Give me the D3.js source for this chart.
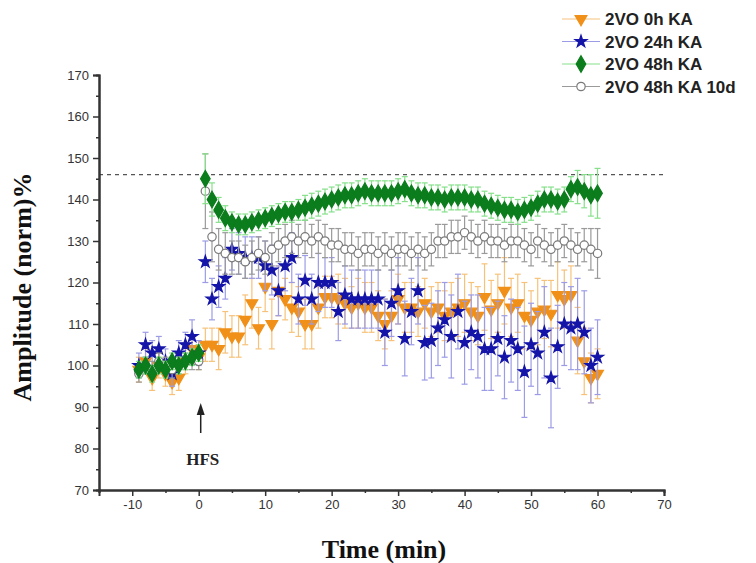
<!DOCTYPE html>
<html><head><meta charset="utf-8">
<script src="https://cdn.jsdelivr.net/npm/d3@7"></script>
<style>body{margin:0;background:#fff}svg{display:block}</style>
</head><body><svg id="c" width="756" height="563"></svg>
<script>
// ---- data ----
const times = [-9,-8,-7,-6,-5,-4,-3,-2,-1,0,
  1,2,3,4,5,6,7,8,9,10,11,12,13,14,15,16,17,18,19,20,
  21,22,23,24,25,26,27,28,29,30,31,32,33,34,35,36,37,38,39,40,
  41,42,43,44,45,46,47,48,49,50,51,52,53,54,55,56,57,58,59,60];
const seriesNames = ["2VO 0h KA","2VO 24h KA","2VO 48h KA","2VO 48h KA 10d"];
const ka0h = [99,101,97,100,98,96,97,101,104,102,
  105,105,104,108,107,107,111,115,109,119,110,118,116,114,113,110,110,114,116.5,116.5,
  116,115,114,115,114,114,112,110,112,116,114,114,113,115,113,114,112,113,114,115,
  113,112,116.5,113.5,115,118,114,115,112,111,113,113.5,112.5,117,116,117,106,101,97,98];
const ka0hErr = [3,3,3,3,3,3,3,3,3,3,
  4,4,5,5,5,5,6,6,5,6,6,6,5,6,6,6,6,5,5,5,
  6,6,5,6,6,6,6,6,6,6,6,6,6,6,6,6,6,7,7,7,
  7,7,8,7,7,8,7,7,8,7,8,7,8,8,7,7,8,8,6,6];
const ka24h = [100,105,103,104,101,98,103,105,107,103,
  125,116,119,121,128,127,126,126,126,124,123,118,124,126,116,120.5,116,120,120,120,
  113,117,116,116,116,116,116,108,115,118,106.5,113,118,105.5,106,109,111,107,113,105.5,
  108,107,104,104,106.5,102,106,104,98.5,105,103,108,97,104.5,110,109,110,108,100,102];
const ka24hErr = [3,3,3,3,3,3,3,3,4,3,
  5,5,5,5,5,5,5,5,5,6,6,6,6,6,6,6,6,7,6,6,
  7,7,7,7,7,7,7,8,8,8,9,8,8,9,9,9,9,10,9,10,
  9,10,10,10,9,10,10,10,11,10,10,11,12,10,10,10,11,10,9,9];
const ka48h = [99,100,98,100,99,101,100,101,102,103,
  145,140,137.5,135.5,134.5,134,134,134.5,135,135.5,136,136.5,137,137,137.5,138,138.5,139,139.5,140,
  140.5,141,141,141.5,142,141.5,141.5,141.5,141.5,142,142.5,141.5,141,141,140.5,140.5,140,140.5,140.5,140.5,
  140,140,139,138.5,138,137.5,137.5,137,137.5,138,139,140,140,139.5,140,142.5,143,142,141,141.5];
const ka48hErr = [2,2,2,2,2,2,2,2,2,2,
  6,4,3,3,2.5,2.5,2.5,2.5,2.5,2.5,2.5,2.5,2.5,2.5,2.5,3,3,3,3,3,
  3,3,3,3,3,3,3,3,3,3,3,3,3,3,3,3,3,3,3,3,
  3,3,3,3,3,3,3,3,3,3,3,3,3,3,3,3,4,4,5,6];
const ka48h10d = [98,100,99,101,100,99,100,101,101,101,
  142,131,128,127,126,126,125,126,127,126,128,129,130,131,130,131,130,131,130,129,
  129,128,128,127,128,128,127,128,127,128,128,127,128,127,128,130,130,131,131,132,
  131,130,131,130,130,129,130,130,129,128,130,129,128,129,130,129,128,129,128,127];
const ka48h10dErr = [2,2,2,2,2,2,2,2,2,2,
  9,6,5,5,4,4,4,4,4,4,4,4,4,4,4,4,4,4,4,4,
  4,4,4,4,4,4,4,4,4,4,4,4,4,4,4,4,4,4,4,4,
  4,4,4,4,4,4,4,4,4,4,4,4,4,4,4,4,4,4,5,6];
const refLine = 146;
const xTicks = [-10,0,10,20,30,40,50,60,70];
const yTicks = [70,80,90,100,110,120,130,140,150,160,170];

// ---- layout ----
const svg = d3.select("#c");
const x = d3.scaleLinear().domain([-15,70]).range([99,664]);
const y = d3.scaleLinear().domain([70,170]).range([490,75]);

const series = [
  {name:seriesNames[0], v:ka0h, e:ka0hErr, sym:d3.symbolTriangle, rot:180, fill:"#f09018", stroke:"#f09018", err:"#f6c27a", size:60},
  {name:seriesNames[1], v:ka24h, e:ka24hErr, sym:d3.symbolStar, rot:0, fill:"#1414a8", stroke:"#1414a8", err:"#9c9ce6", size:45},
  {name:seriesNames[3], v:ka48h10d, e:ka48h10dErr, sym:d3.symbolCircle, rot:0, fill:"#ffffff", stroke:"#7a7a7a", err:"#9a9a9a", size:55},
  {name:seriesNames[2], v:ka48h, e:ka48hErr, sym:d3.symbolDiamond, rot:0, fill:"#0b7d1c", stroke:"#0b7d1c", err:"#86e08a", size:80}
];

// dashed reference line
svg.append("line").attr("x1",x(-15)).attr("x2",x(70)).attr("y1",y(refLine)).attr("y2",y(refLine))
  .attr("stroke","#555").attr("stroke-width",1.3).attr("stroke-dasharray","4,4");

series.forEach(s=>{
  const g = svg.append("g");
  const pts = times.map((t,i)=>({t, v:s.v[i], e:s.e[i]}));
  g.selectAll("line.eb").data(pts).join("line")
    .attr("x1",d=>x(d.t)).attr("x2",d=>x(d.t)).attr("y1",d=>y(d.v-d.e)).attr("y2",d=>y(d.v+d.e))
    .attr("stroke",s.err).attr("stroke-width",1.2);
  g.selectAll("line.cap").data(pts.flatMap(d=>[d.v-d.e,d.v+d.e].map(v=>({t:d.t,v})))).join("line")
    .attr("x1",d=>x(d.t)-3).attr("x2",d=>x(d.t)+3).attr("y1",d=>y(d.v)).attr("y2",d=>y(d.v))
    .attr("stroke",s.err).attr("stroke-width",1.2);
  g.selectAll("path").data(pts).join("path")
    .attr("d",d3.symbol().type(s.sym).size(s.size))
    .attr("transform",d=>`translate(${x(d.t)},${y(d.v)}) rotate(${s.rot})`)
    .attr("fill",s.fill).attr("stroke",s.stroke).attr("stroke-width",1.2);
});

// axes
const fmt = d => String(d);
const xAxis = svg.append("g").attr("transform",`translate(0,${y(70)})`)
  .call(d3.axisBottom(x).tickValues(xTicks).tickSize(6).tickPadding(4).tickFormat(fmt));
const xMinor = svg.append("g").attr("transform",`translate(0,${y(70)})`)
  .call(d3.axisBottom(x).tickValues([-15,-5,5,15,25,35,45,55,65]).tickSize(3).tickFormat(""));
const yAxis = svg.append("g").attr("transform",`translate(${x(-15)},0)`)
  .call(d3.axisLeft(y).tickValues(yTicks).tickSize(6).tickPadding(4).tickFormat(fmt));
const yMinor = svg.append("g").attr("transform",`translate(${x(-15)},0)`)
  .call(d3.axisLeft(y).tickValues([75,85,95,105,115,125,135,145,155,165]).tickSize(3).tickFormat(""));
[xAxis,xMinor,yAxis,yMinor].forEach(a=>{
  a.select(".domain").attr("stroke","#333").attr("stroke-width",2);
  a.selectAll(".tick line").attr("stroke","#333").attr("stroke-width",1.5);
  a.selectAll(".tick text").attr("font-family","Arial, 'Liberation Sans', sans-serif").attr("font-size",13).attr("fill","#333");
});

// titles
svg.append("text").attr("x",384).attr("y",558).attr("text-anchor","middle")
  .attr("font-family","'Liberation Serif','Times New Roman',serif").attr("font-weight","bold").attr("font-size",26)
  .attr("fill","#111").text("Time (min)");
svg.append("text").attr("transform","translate(31,287) rotate(-90)").attr("text-anchor","middle")
  .attr("font-family","'Liberation Serif','Times New Roman',serif").attr("font-weight","bold").attr("font-size",26)
  .attr("fill","#111").text("Amplitude (norm)%");

// HFS annotation
svg.append("line").attr("x1",x(0)+2).attr("x2",x(0)+2).attr("y1",433).attr("y2",412).attr("stroke","#222").attr("stroke-width",1.5);
svg.append("path").attr("d",`M${x(0)-2},${415} L${x(0)+2},${403} L${x(0)+6},${415} Z`).attr("fill","#222");
svg.append("text").attr("x",x(0)+4).attr("y",465).attr("text-anchor","middle")
  .attr("font-family","'Liberation Serif','Times New Roman',serif").attr("font-weight","bold").attr("font-size",17)
  .attr("fill","#222").text("HFS");

// legend
const legOrder = [series[0],series[1],series[3],series[2]];
const leg = svg.append("g");
legOrder.forEach((s,i)=>{
  const cy = 19 + i*22.5;
  leg.append("line").attr("x1",562).attr("x2",600).attr("y1",cy).attr("y2",cy).attr("stroke",s.err).attr("stroke-width",1.2);
  leg.append("path").attr("d",d3.symbol().type(s.sym).size(s.size))
    .attr("transform",`translate(581,${cy}) rotate(${s.rot})`)
    .attr("fill",s.fill).attr("stroke",s.stroke).attr("stroke-width",1.2);
  leg.append("text").attr("x",605).attr("y",cy+6)
    .attr("font-family","Arial, 'Liberation Sans', sans-serif").attr("font-weight","bold").attr("font-size",17)
    .attr("fill","#222").text(s.name);
});
</script>
</body></html>
